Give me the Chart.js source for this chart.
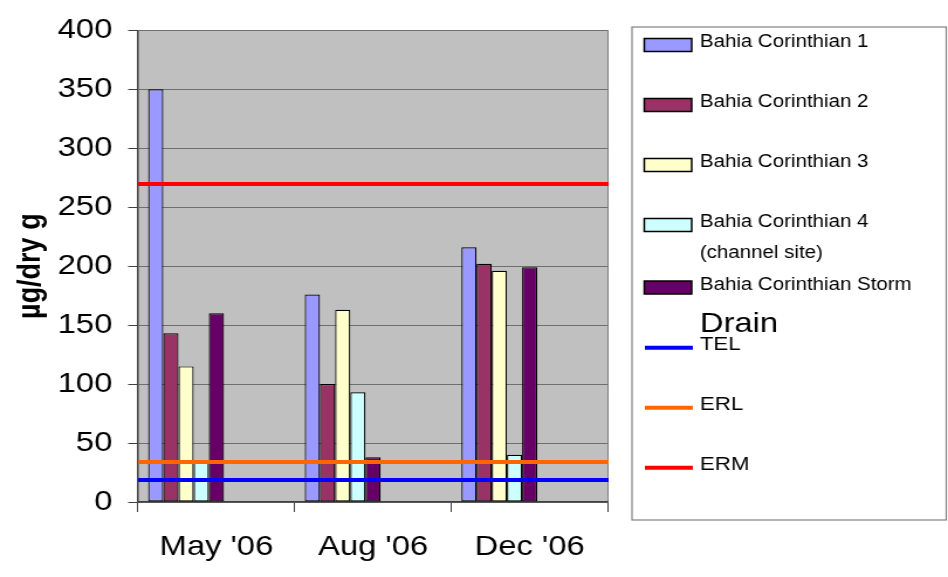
<!DOCTYPE html>
<html>
<head>
<meta charset="utf-8">
<script src="https://cdn.jsdelivr.net/npm/chart.js@4.4.1/dist/chart.umd.min.js"></script>
<style>
html, body { margin: 0; padding: 0; background: #ffffff; }
</style>
</head>
<body>
<!-- the original picture is wider than it is drawn, so the canvas is stretched by css -->
<canvas id="grafica" width="810" height="577" style="display:block;width:948px;height:577px;"></canvas>
<script>
var categorias = ["May '06", "Aug '06", "Dec '06"];
var nombresSerie = [
    ["Bahia Corinthian 1"],
    ["Bahia Corinthian 2"],
    ["Bahia Corinthian 3"],
    ["Bahia Corinthian 4", "(channel site)"],
    ["Bahia Corinthian Storm", "Drain"]
];
var bc1 = [350, 176, 216];
var bc2 = [143, 100, 202];
var bc3 = [115, 163, 196];
var bc4 = [35, 93, 40];
var storm = [160, 38, 199];
var coloresBarra = ["#9999FF", "#993366", "#FFFFCC", "#CCFFFF", "#660066"];

// limites de calidad de sedimento (lineas horizontales)
var nombresLimite = ["TEL", "ERL", "ERM"];
var limites = [18.7, 34, 270];
var coloresLimite = ["#0000FF", "#FF6600", "#FF0000"];

var yMin = 0, yMax = 400, yPaso = 50;

var fuente = "'Liberation Sans', Arial, sans-serif";
Chart.defaults.font.family = fuente;
Chart.defaults.color = "#000000";

var series = [bc1, bc2, bc3, bc4, storm];
var datasets = [];
series.forEach(function (valores, i) {
    datasets.push({
        label: nombresSerie[i].join(" "),
        lineas: nombresSerie[i],
        data: valores,
        backgroundColor: coloresBarra[i],
        borderColor: "#000000",
        borderWidth: 1.2,
        borderSkipped: false,
        inflateAmount: 0,
        categoryPercentage: 0.872,
        barPercentage: 1
    });
});
// huecos vacios: en el original las barras quedan a la izquierda de cada categoria
for (var k = 0; k < 4; k++) {
    datasets.push({ label: "", data: [null, null, null], hueco: true, categoryPercentage: 0.872, barPercentage: 1 });
}

var fondo = {
    id: "fondo",
    beforeDraw: function (chart) {
        var ctx = chart.ctx, a = chart.chartArea;
        ctx.save();
        ctx.fillStyle = "#ffffff";
        ctx.fillRect(0, 0, chart.width, chart.height);
        ctx.fillStyle = "#C0C0C0";
        ctx.fillRect(a.left, a.top, a.right - a.left, a.bottom - a.top);
        ctx.strokeStyle = "#808080";
        ctx.lineWidth = 1;
        ctx.beginPath();
        ctx.moveTo(a.right, a.top);
        ctx.lineTo(a.right, a.bottom);
        ctx.stroke();
        ctx.restore();
    }
};

var leyenda = {
    id: "leyenda",
    afterDraw: function (chart) {
        var ctx = chart.ctx;
        var filas = [45, 105, 165, 225, 287.5, 347.7, 407.7, 467.7];
        ctx.save();
        ctx.strokeStyle = "#808080";
        ctx.lineWidth = 1.2;
        ctx.strokeRect(540, 27, 268.5, 493);
        ctx.textBaseline = "alphabetic";
        var n = 0;
        chart.data.datasets.forEach(function (ds) {
            if (ds.hueco) return;
            var y = filas[n];
            n++;
            ctx.fillStyle = ds.backgroundColor;
            ctx.fillRect(550.5, y - 6.5, 40.5, 13);
            ctx.strokeStyle = "#000000";
            ctx.lineWidth = 1.5;
            ctx.strokeRect(550.5, y - 6.5, 40.5, 13);
            ctx.fillStyle = "#000000";
            ctx.font = "17.5px " + fuente;
            ctx.fillText(ds.lineas[0], 598, y + 2);
            if (ds.lineas.length > 1) {
                if (ds.lineas[1] === "Drain") {
                    ctx.font = "28px " + fuente;
                    ctx.fillText(ds.lineas[1], 598, y + 44);
                } else {
                    ctx.fillText(ds.lineas[1], 598, y + 33);
                }
            }
        });
        nombresLimite.forEach(function (nombre, i) {
            var y = filas[n + i];
            ctx.strokeStyle = coloresLimite[i];
            ctx.lineWidth = 4;
            ctx.beginPath();
            ctx.moveTo(551, y);
            ctx.lineTo(592, y);
            ctx.stroke();
            ctx.fillStyle = "#000000";
            ctx.font = "19px " + fuente;
            ctx.fillText(nombre, 598, y + 2.5);
        });
        ctx.restore();
    }
};

var ctx = document.getElementById("grafica").getContext("2d");
var grafica = new Chart(ctx, {
    type: "bar",
    data: { labels: categorias, datasets: datasets },
    options: {
        responsive: false,
        animation: false,
        devicePixelRatio: 1,
        events: [],
        layout: { padding: { top: 20, right: 290.5, left: 0, bottom: 0 } },
        plugins: { legend: { display: false }, tooltip: { enabled: false } },
        scales: {
            x: {
                grid: { offset: true, drawOnChartArea: false, drawTicks: true, tickLength: 10, tickColor: "#404040" },
                border: { color: "#404040", width: 1.5 },
                ticks: { font: { size: 28 }, color: "#000000", padding: 18, maxRotation: 0 },
                afterFit: function (s) { s.height = 75; }
            },
            y: {
                min: yMin,
                max: yMax,
                ticks: { stepSize: yPaso, font: { size: 28 }, color: "#000000", padding: 13.5 },
                grid: { color: "#6e6e6e", lineWidth: 1, drawTicks: true, tickLength: 8.5, tickColor: "#404040" },
                border: { color: "#404040", width: 1.5 },
                title: { display: true, text: "µg/dry g", font: { size: 27, weight: "bold" }, color: "#000000", padding: { top: 10, bottom: 0 } },
                afterFit: function (s) { s.width = 118; }
            },
            // eje oculto: sus lineas de rejilla son TEL, ERL y ERM, por encima de las barras
            limites: {
                axis: "y",
                position: "right",
                display: true,
                min: yMin,
                max: yMax,
                afterBuildTicks: function (s) {
                    s.ticks = limites.map(function (v) { return { value: v }; });
                },
                ticks: { display: false },
                grid: {
                    z: 1,
                    drawTicks: false,
                    drawOnChartArea: true,
                    lineWidth: 4,
                    color: function (c) { return coloresLimite[c.index]; }
                },
                border: { display: false },
                afterFit: function (s) { s.width = 0; }
            }
        }
    },
    plugins: [fondo, leyenda]
});
</script>
</body>
</html>
